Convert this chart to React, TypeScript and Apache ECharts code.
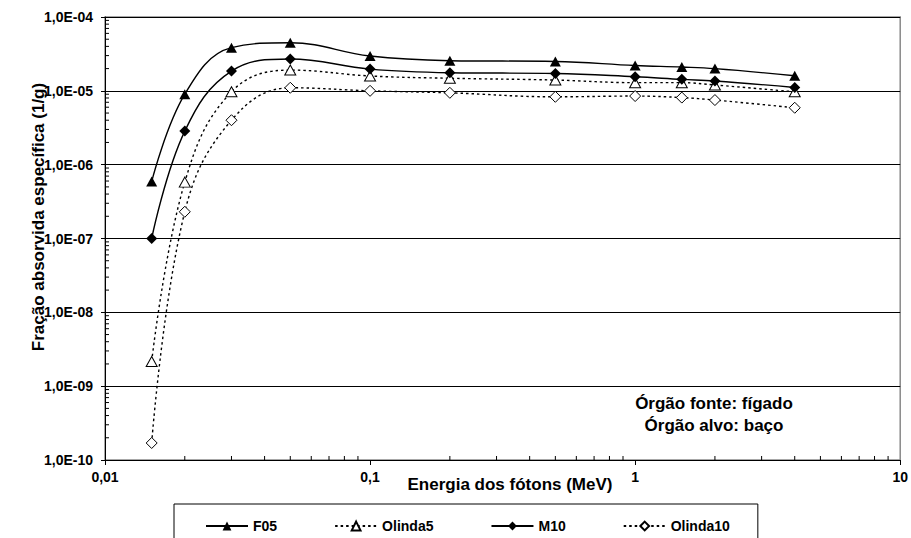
import React, { useEffect, useRef } from "react";
import * as echarts from "echarts";

// Photon energies (MeV)
const energies = [0.015, 0.02, 0.03, 0.05, 0.1, 0.2, 0.5, 1, 1.5, 2, 4];

// Specific absorbed fraction (1/g)
const f05 = [5.9e-7, 9.0e-6, 3.84e-5, 4.49e-5, 2.96e-5, 2.56e-5, 2.5e-5, 2.2e-5, 2.1e-5, 2.0e-5, 1.6e-5];
const olinda5 = [2.16e-9, 5.8e-7, 9.7e-6, 1.91e-5, 1.59e-5, 1.48e-5, 1.4e-5, 1.29e-5, 1.29e-5, 1.2e-5, 9.7e-6];
const m10 = [1.0e-7, 2.85e-6, 1.85e-5, 2.7e-5, 1.97e-5, 1.76e-5, 1.72e-5, 1.55e-5, 1.43e-5, 1.36e-5, 1.11e-5];
const olinda10 = [1.7e-10, 2.3e-7, 4.0e-6, 1.1e-5, 1.0e-5, 9.4e-6, 8.3e-6, 8.5e-6, 8.1e-6, 7.5e-6, 5.9e-6];

const seriesNames = ["F05", "Olinda5", "M10", "Olinda10"];

// Axis ticks
const xTickLabels = ["0,01", "0,1", "1", "10"]; // 10^-2 .. 10^1
const yTickLabels = ["1,0E-10", "1,0E-09", "1,0E-08", "1,0E-07", "1,0E-06", "1,0E-05", "1,0E-04"];
const xDecades = [0.01, 0.1, 1];
const yDecades = [1e-10, 1e-9, 1e-8, 1e-7, 1e-6, 1e-5];
const mantissas = [2, 3, 4, 5, 6, 7, 8, 9];

const xMin = 0.01;
const xMax = 10;
const yMin = 1e-10;
const yMax = 1e-4;

const FONT = "'Liberation Sans', Arial, sans-serif";

export default function App() {
  const ref = useRef<HTMLDivElement>(null);

  useEffect(() => {
    if (!ref.current) return;
    const chart = echarts.init(ref.current, undefined, { renderer: "svg" });

    const xMinor: number[] = [];
    xDecades.forEach((d) => mantissas.forEach((m) => xMinor.push(+(d * m).toPrecision(6))));
    const yMinor: number[] = [];
    yDecades.forEach((d) => mantissas.forEach((m) => yMinor.push(+(d * m).toPrecision(6))));

    const mk = (vals: number[]) => energies.map((e, i) => [e, vals[i]]);

    const solidLine = { color: "#000", width: 1.4, type: "solid" as const };
    const dotLine = { color: "#000", width: 1.4, type: [2.5, 3] as any };

    const option: any = {
      animation: false,
      backgroundColor: "#fff",
      textStyle: { fontFamily: FONT },
      grid: {
        left: 105,
        right: 10,
        top: 17,
        bottom: 78,
        show: true,
        borderColor: "#8a8a8a",
        borderWidth: 1.5,
        backgroundColor: "transparent",
      },
      legend: {
        data: seriesNames,
        left: 174,
        top: 504,
        orient: "horizontal",
        itemWidth: 42,
        itemHeight: 11,
        itemGap: 57,
        padding: [15, 28, 25, 31],
        borderColor: "#000",
        borderWidth: 1,
        backgroundColor: "#fff",
        selectedMode: false,
        textStyle: { fontFamily: FONT, fontWeight: "bold", fontSize: 14, color: "#000" },
      },
      xAxis: {
        type: "log",
        logBase: 10,
        min: xMin,
        max: xMax,
        interval: 1,
        axisLine: { lineStyle: { color: "#000", width: 1 } },
        axisTick: { show: true, inside: false, length: 5, lineStyle: { color: "#000" } },
        splitLine: { show: false },
        axisLabel: {
          margin: 10,
          color: "#000",
          fontFamily: FONT,
          fontWeight: "bold",
          fontSize: 14,
          formatter: (v: number) => xTickLabels[Math.round(Math.log10(v)) + 2],
        },
      },
      yAxis: {
        type: "log",
        logBase: 10,
        min: yMin,
        max: yMax,
        interval: 1,
        axisLine: { show: true, lineStyle: { color: "#000", width: 1 } },
        axisTick: { show: true, inside: false, length: 4, lineStyle: { color: "#000" } },
        splitLine: {
          show: true,
          showMinLine: false,
          showMaxLine: false,
          lineStyle: { color: "#000", width: 1 },
        },
        axisLabel: {
          margin: 12,
          color: "#000",
          fontFamily: FONT,
          fontWeight: "bold",
          fontSize: 14,
          formatter: (v: number) => yTickLabels[Math.round(Math.log10(v)) + 10],
        },
      },
      graphic: [
        {
          type: "text",
          x: 510,
          y: 484,
          style: {
            text: "Energia dos fótons (MeV)",
            font: `bold 17px ${FONT}`,
            fill: "#000",
            textAlign: "center",
            textVerticalAlign: "middle",
          },
        },
        {
          type: "text",
          x: 38,
          y: 217,
          rotation: Math.PI / 2,
          style: {
            text: "Fração absorvida específica (1/g)",
            font: `bold 17px ${FONT}`,
            fill: "#000",
            textAlign: "center",
            textVerticalAlign: "middle",
          },
        },
        {
          type: "text",
          x: 714,
          y: 403,
          style: {
            text: "Órgão fonte: fígado",
            font: `bold 17px ${FONT}`,
            fill: "#000",
            textAlign: "center",
            textVerticalAlign: "middle",
          },
        },
        {
          type: "text",
          x: 714,
          y: 425,
          style: {
            text: "Órgão alvo: baço",
            font: `bold 17px ${FONT}`,
            fill: "#000",
            textAlign: "center",
            textVerticalAlign: "middle",
          },
        },
      ],
      series: [
        {
          name: "yMinorTicks",
          type: "custom",
          silent: true,
          clip: false,
          z: 5,
          data: yMinor.map((v) => [xMin, v]),
          renderItem: (params: any, api: any) => {
            const p = api.coord([api.value(0), api.value(1)]);
            return {
              type: "line",
              shape: { x1: p[0], y1: p[1], x2: p[0] + 4, y2: p[1] },
              style: { stroke: "#000", lineWidth: 1 },
            };
          },
        },
        {
          name: "xMinorTicks",
          type: "custom",
          silent: true,
          clip: false,
          z: 5,
          data: xMinor.map((v) => [v, yMin]),
          renderItem: (params: any, api: any) => {
            const p = api.coord([api.value(0), api.value(1)]);
            return {
              type: "line",
              shape: { x1: p[0], y1: p[1], x2: p[0], y2: p[1] - 4 },
              style: { stroke: "#000", lineWidth: 1 },
            };
          },
        },
        {
          name: "F05",
          type: "line",
          data: mk(f05),
          smooth: 0.4,
          symbol: "triangle",
          symbolSize: [11, 10],
          lineStyle: solidLine,
          itemStyle: { color: "#000", borderColor: "#000", borderWidth: 0 },
          z: 3,
        },
        {
          name: "Olinda5",
          type: "line",
          data: mk(olinda5),
          smooth: 0.4,
          symbol: "triangle",
          symbolSize: [11, 10],
          lineStyle: dotLine,
          itemStyle: { color: "#fff", borderColor: "#000", borderWidth: 1 },
          z: 3,
        },
        {
          name: "M10",
          type: "line",
          data: mk(m10),
          smooth: 0.4,
          symbol: "diamond",
          symbolSize: [11, 11],
          lineStyle: solidLine,
          itemStyle: { color: "#000", borderColor: "#000", borderWidth: 0 },
          z: 4,
        },
        {
          name: "Olinda10",
          type: "line",
          data: mk(olinda10),
          smooth: 0.4,
          symbol: "diamond",
          symbolSize: [11, 11],
          lineStyle: dotLine,
          itemStyle: { color: "#fff", borderColor: "#000", borderWidth: 1 },
          z: 4,
        },
      ],
    };

    chart.setOption(option);
    return () => chart.dispose();
  }, []);

  return (
    <div
      ref={ref}
      style={{ position: "fixed", left: 0, top: 0, width: 911, height: 538, background: "#fff" }}
    />
  );
}
